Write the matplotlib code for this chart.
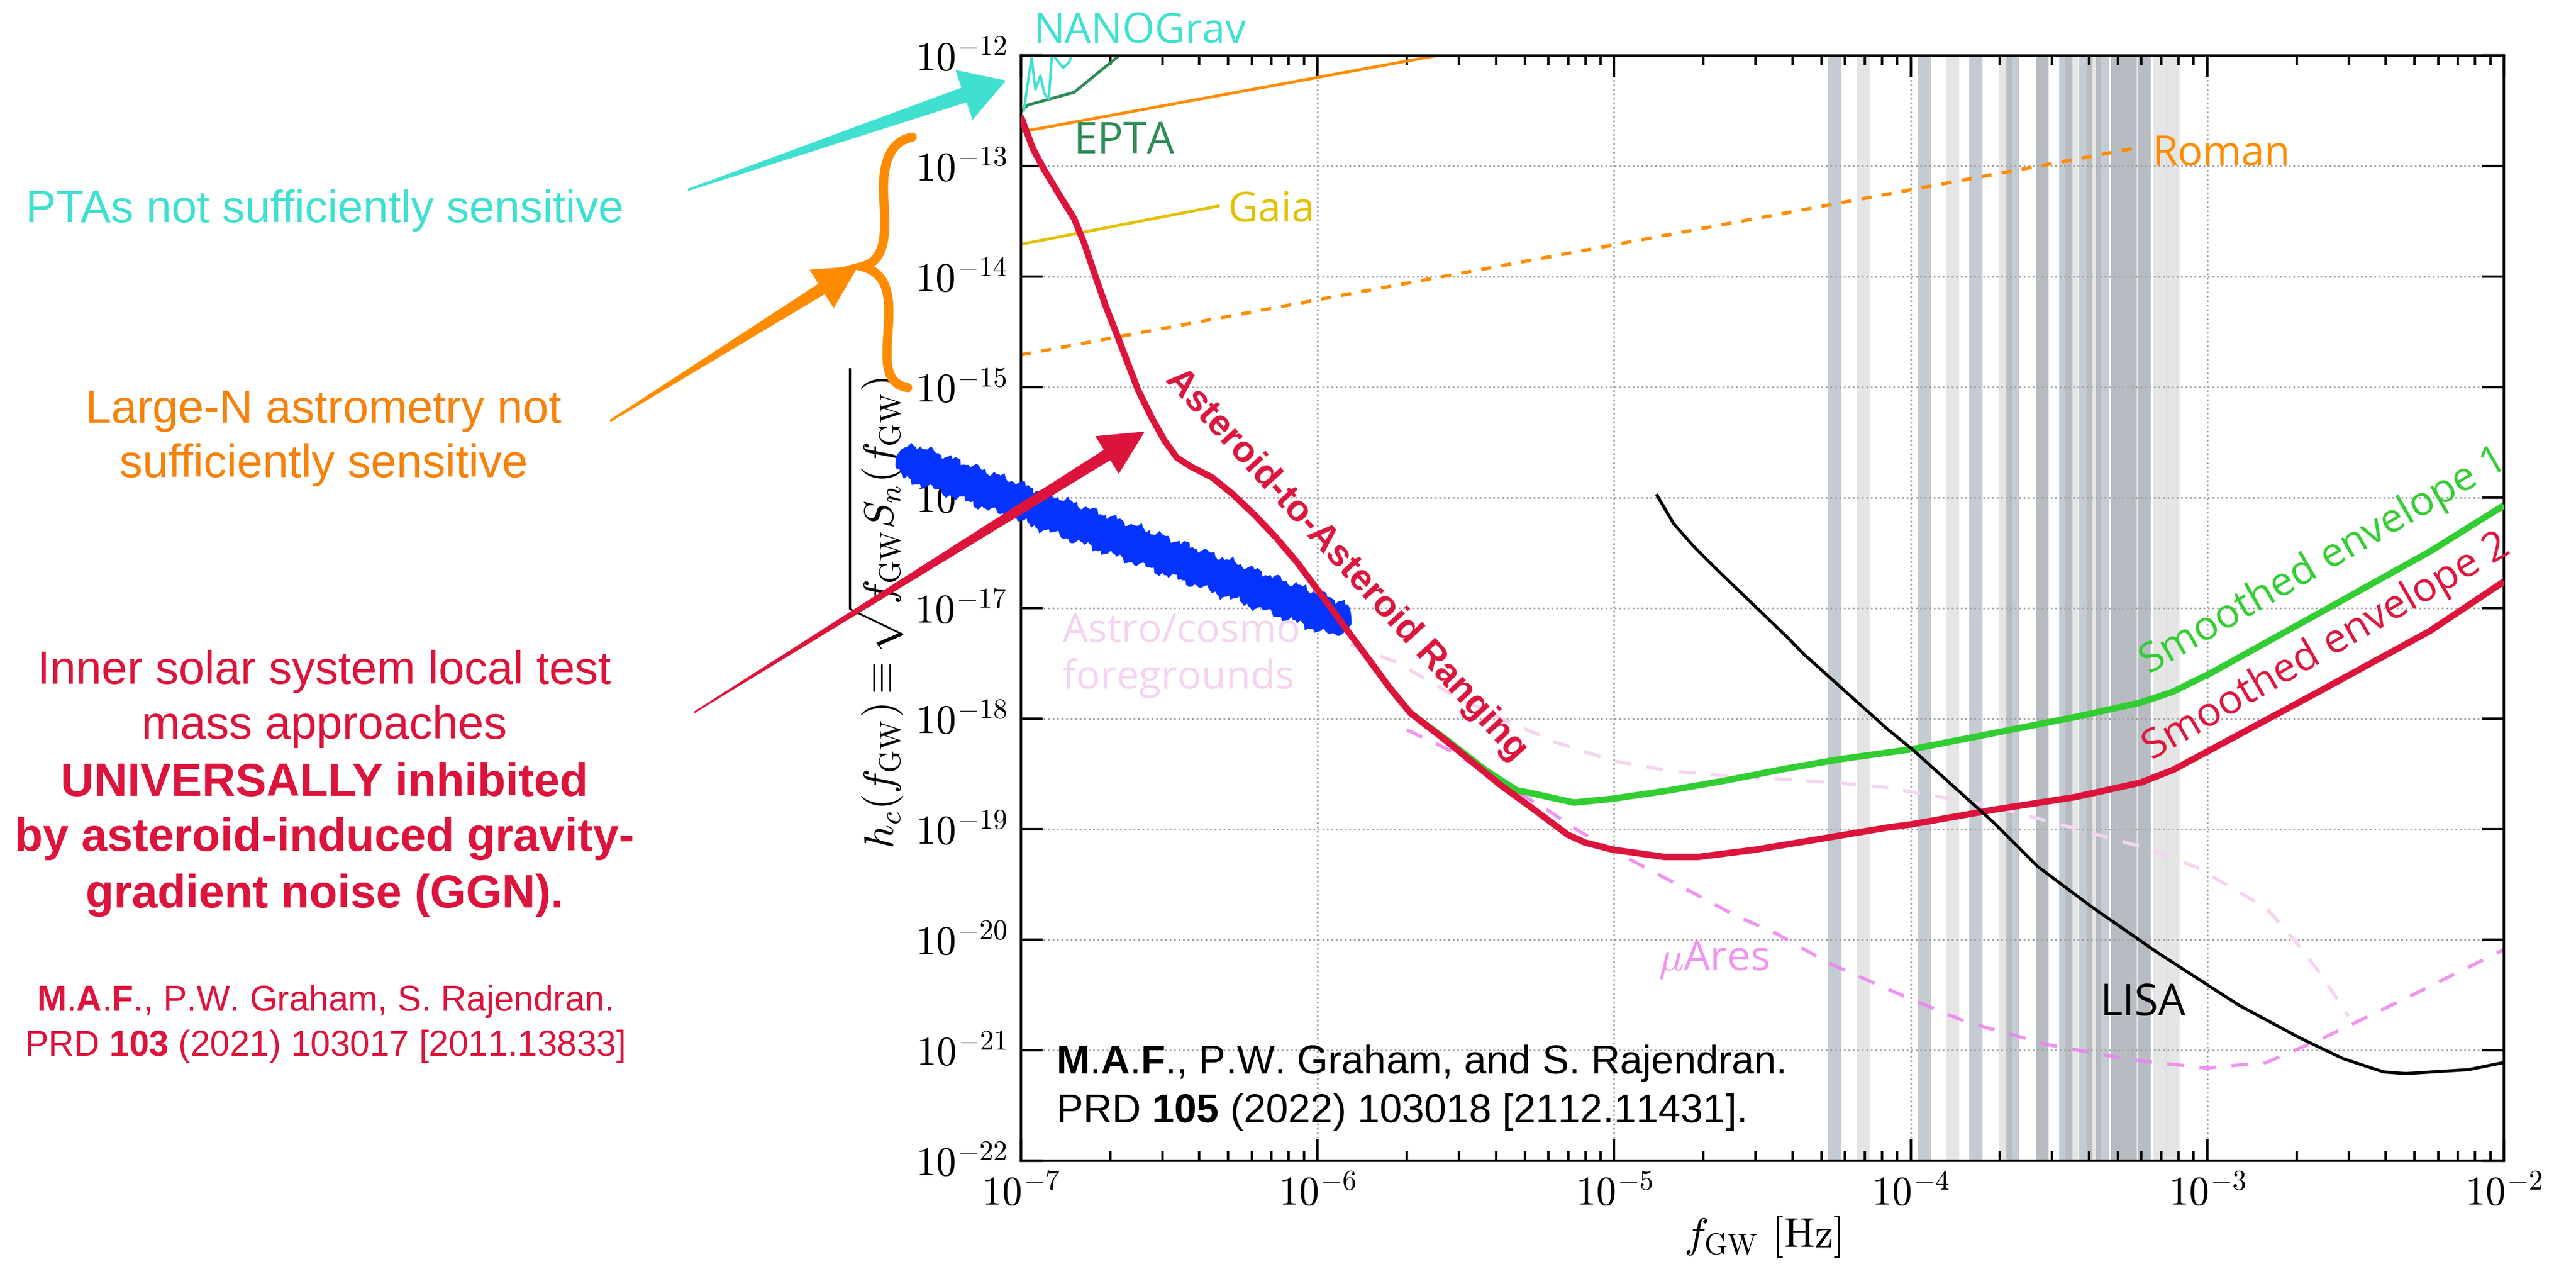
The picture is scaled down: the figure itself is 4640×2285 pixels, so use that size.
import numpy as np
import matplotlib.pyplot as plt
from matplotlib.patches import Polygon, PathPatch
from matplotlib.path import Path
from matplotlib.ticker import FixedLocator, FuncFormatter, NullLocator

plt.rcParams['mathtext.fontset'] = 'cm'
plt.rcParams['mathtext.rm'] = 'Liberation Sans'
plt.rcParams['mathtext.bf'] = 'Liberation Sans:bold'
plt.rcParams['font.family'] = ['Open Sans', 'DejaVu Sans']

# sensitivity curves, stored as log10(f / Hz) and log10(h_c)
ranging_logf = [-7.0, -6.959, -6.921, -6.869, -6.820, -6.785, -6.749, -6.714, -6.678,
                -6.605, -6.558, -6.515, -6.474, -6.427, -6.354, -6.283, -6.212, -6.141, -6.068,
                -5.997, -5.912, -5.841, -5.757, -5.686, -5.575, -5.384, -5.289, -5.156, -5.098,
                -5.003, -4.830, -4.716, -4.525, -4.334, -4.078, -3.995, -3.720, -3.445, -3.224,
                -3.114, -2.985, -2.616, -2.249, -2.0]
ranging_logh = [-12.55, -12.844, -13.035, -13.266, -13.477, -13.709, -13.995, -14.266, -14.513,
                -15.025, -15.281, -15.487, -15.638, -15.719, -15.819, -15.975, -16.156, -16.357, -16.588,
                -16.844, -17.156, -17.412, -17.719, -17.950, -18.181, -18.598, -18.784, -19.050, -19.121,
                -19.186, -19.251, -19.251, -19.186, -19.101, -18.985, -18.955, -18.824, -18.709, -18.578,
                -18.462, -18.276, -17.744, -17.206, -16.759]

env1_logf = [-5.757, -5.686, -5.575, -5.431, -5.328, -5.289, -5.135, -5.003, -4.812, -4.621,
             -4.430, -4.239, -3.995, -3.720, -3.445, -3.224, -3.114, -2.985, -2.616, -2.249, -2.0]
env1_logh = [-17.719, -17.950, -18.170, -18.470, -18.648, -18.668, -18.759, -18.724, -18.648, -18.558,
             -18.457, -18.367, -18.276, -18.131, -17.985, -17.854, -17.754, -17.583, -17.035, -16.487, -16.070]

lisa_logf = [-4.855, -4.799, -4.733, -4.664, -4.551, -4.411, -4.364, -4.078, -3.995, -3.720,
             -3.572, -3.389, -3.168, -2.893, -2.691, -2.543, -2.406, -2.331, -2.120, -2.0]
lisa_logh = [-15.980, -16.236, -16.437, -16.623, -16.915, -17.276, -17.407, -18.095, -18.276, -18.940,
             -19.337, -19.704, -20.116, -20.593, -20.884, -21.075, -21.196, -21.211, -21.176, -21.111]

muares_logf = [-5.699, -5.557, -5.212, -5.117, -4.984, -4.784, -4.711, -4.593, -4.456, -4.273,
               -3.995, -3.812, -3.537, -3.260, -3.003, -2.801, -2.616, -2.341, -2.0]
muares_logh = [-18.101, -18.281, -18.849, -19.020, -19.221, -19.503, -19.608, -19.779, -19.940, -20.216,
               -20.543, -20.744, -20.950, -21.085, -21.161, -21.111, -20.899, -20.543, -20.090]

fg_logf = [-5.890, -5.735, -5.557, -5.384, -5.194, -5.003, -4.812, -4.621, -4.430, -4.239,
           -4.078, -3.995, -3.720, -3.445, -3.205, -3.039, -2.912, -2.801, -2.710, -2.616, -2.524]
fg_logh = [-17.332, -17.487, -17.764, -17.995, -18.216, -18.382, -18.472, -18.518, -18.548, -18.583,
           -18.623, -18.663, -18.794, -18.995, -19.171, -19.342, -19.538, -19.714, -19.990, -20.317, -20.693]

nanograv_logf = [-6.990, -6.964, -6.951, -6.934, -6.921, -6.906, -6.895, -6.880, -6.858, -6.839, -6.826]
nanograv_logh = [-12.497, -12.015, -12.307, -12.181, -12.342, -12.392, -11.98, -12.035, -12.111, -12.065, -11.98]

epta_logf = [-7.0, -6.976, -6.820, -6.671, -6.60]
epta_logh = [-12.51, -12.447, -12.332, -12.005, -11.85]

astrometry_f = [1e-7, 1e-5]
astrometry_h = [2.04e-13, 1.97e-12]
gaia_f = [1e-7, 4.63e-7]
gaia_h = [1.96e-14, 4.35e-14]
roman_f = [1e-7, 5.69e-4]
roman_h = [1.96e-15, 1.45e-13]

# hand-drawn highlight over the low-frequency end
scribble_f = [3.8e-8, 1.30e-6]
scribble_h = [2.35e-16, 7.2e-18]

# excluded frequency windows
bands_dark = [5.27e-5, 1.055e-4, 1.575e-4, 2.10e-4, 2.64e-4, 3.17e-4, 3.70e-4, 4.21e-4, 4.73e-4, 5.24e-4, 5.82e-4]
bands_light = [6.59e-5, 1.314e-4, 1.98e-4, 2.64e-4, 3.31e-4, 3.95e-4, 4.73e-4, 5.24e-4, 5.82e-4, 6.59e-4, 7.28e-4]
band_ratio = 1.107

x_decades = [-7, -6, -5, -4, -3, -2]
y_decades = [-22, -21, -20, -19, -18, -17, -16, -15, -14, -13, -12]

crimson = '#dc143c'
turq = '#40e0d0'
dorange = '#ff8c00'

W, H = 4640, 2285
fig = plt.figure(figsize=(W / 200, H / 200), dpi=200)
ax = fig.add_axes([0.3963, 0.0853, 0.5757, 0.8709])
ax.set_xscale('log')
ax.set_yscale('log')
ax.set_xlim(1e-7, 1e-2)
ax.set_ylim(1e-22, 1e-12)

for f0 in bands_dark:
    ax.axvspan(f0, f0 * band_ratio, color='#778899', alpha=0.43, lw=0, zorder=0.5)
for f0 in bands_light:
    ax.axvspan(f0, f0 * band_ratio, color='gray', alpha=0.2, lw=0, zorder=0.6)


def p10(a):
    return 10 ** np.asarray(a, dtype=float)


ax.plot(p10(fg_logf), p10(fg_logh), color='#f4d4f0', lw=2.2, dashes=(5, 4.5), zorder=2)
ax.plot(p10(muares_logf), p10(muares_logh), color='violet', alpha=0.85, lw=2.2, dashes=(5, 4.5), zorder=2.1)
ax.plot(roman_f, roman_h, color=dorange, lw=2.2, dashes=(3, 3), zorder=2.2)
ax.plot(astrometry_f, astrometry_h, color=dorange, lw=1.9, zorder=2.2)
ax.plot(gaia_f, gaia_h, color='#e3c000', lw=1.9, zorder=2.2)
ax.plot(p10(epta_logf), p10(epta_logh), color='seagreen', lw=1.9, zorder=2.3)
ax.plot(p10(nanograv_logf), p10(nanograv_logh), color=turq, lw=1.6, zorder=2.4)
ax.plot(p10(env1_logf), p10(env1_logh), color='limegreen', lw=4.2, zorder=3, solid_capstyle='butt')
ax.plot(p10(ranging_logf), p10(ranging_logh), color=crimson, lw=4.2, zorder=4, solid_capstyle='butt')
ax.plot(p10(lisa_logf), p10(lisa_logh), color='black', lw=2.0, zorder=4.5)

# marker-pen stroke: a band with ragged edges, built in pixel space
p0 = ax.transData.transform((scribble_f[0], scribble_h[0]))
p1 = ax.transData.transform((scribble_f[1], scribble_h[1]))
t = np.linspace(0, 1, 200)
length = np.hypot(*(p1 - p0))
u = (p1 - p0) / length
n = np.array([-u[1], u[0]])
s = t * length / 12.0
rough_a = 4 * np.sin(1.7 * s) + 3 * np.sin(4.3 * s + 1.1) + 2 * np.sin(9.1 * s + 0.4)
rough_b = 4 * np.sin(1.3 * s + 2.0) + 3.5 * np.sin(3.7 * s + 0.3) + 2 * np.sin(8.3 * s + 1.9)
half = 31
taper = np.clip(np.minimum(t, 1 - t) * length / 25.0, 0, 1) ** 0.5
top = p0 + np.outer(t, p1 - p0) + np.outer((half + rough_a) * taper, n)
bot = p0 + np.outer(t, p1 - p0) - np.outer((half + rough_b) * taper, n)
outline = ax.transData.inverted().transform(np.vstack([top, bot[::-1]]))
ax.add_patch(Polygon(outline, closed=True, fc='#0433ff', ec='#0433ff', lw=0.5,
                     zorder=3.5, clip_on=False))

# curve labels
ax.text(1.104e-7, 1.32e-12, 'NANOGrav', color=turq, fontsize=27, clip_on=False)
ax.text(1.50e-7, 1.31e-13, 'EPTA', color='seagreen', fontsize=28)
ax.text(4.99e-7, 3.18e-14, 'Gaia', color='#e3c000', fontsize=27)
ax.text(6.53e-4, 1.02e-13, 'Roman', color=dorange, fontsize=27)
ax.text(4.35e-4, 2.07e-21, 'LISA', color='black', fontsize=28)
ax.text(1.41e-5, 5.3e-21, r'$\mu$Ares', color='violet', alpha=0.85, fontsize=27)
ax.text(1.38e-7, 4.93e-18, 'Astro/cosmo', color='#f4d4f0', fontsize=26)
ax.text(1.38e-7, 1.87e-18, 'foregrounds', color='#f4d4f0', fontsize=26)
ax.text(6.37e-4, 2.52e-18, 'Smoothed envelope 1', color='limegreen', fontsize=26.5,
        rotation=30, rotation_mode='anchor')
ax.text(6.50e-4, 4.2e-19, 'Smoothed envelope 2', color=crimson, fontsize=26.5,
        rotation=30, rotation_mode='anchor')
ax.text(3.05e-7, 1.16e-15, 'Asteroid-to-Asteroid Ranging', color=crimson, fontsize=24,
        family='Liberation Sans', weight='bold', rotation=-47.5, rotation_mode='anchor', zorder=5)

ax.text(0.0236, 0.0789, r'$\mathbf{M}$.$\mathbf{A}$.$\mathbf{F}$., P.W. Graham, and S. Rajendran.',
        transform=ax.transAxes, fontsize=26, family='Liberation Sans', math_fontfamily='custom')
ax.text(0.0236, 0.0347, r'PRD $\mathbf{105}$ (2022) 103018 [2112.11431].', transform=ax.transAxes,
        fontsize=26, family='Liberation Sans', math_fontfamily='custom')

# axes styling
ax.grid(True, which='major', ls=':', lw=1.1, color='#a0a0a0')
ax.xaxis.set_major_locator(FixedLocator(p10(x_decades)))
ax.xaxis.set_minor_locator(FixedLocator([m * 10.0 ** d for d in x_decades[:-1] for m in range(2, 10)]))
ax.yaxis.set_major_locator(FixedLocator(p10(y_decades)))
ax.yaxis.set_minor_locator(NullLocator())
fmt = FuncFormatter(lambda v, pos: r'$10^{%d}$' % int(round(np.log10(v))))
ax.xaxis.set_major_formatter(fmt)
ax.yaxis.set_major_formatter(fmt)
ax.tick_params(which='both', direction='in', top=True, right=True, width=1.6)
ax.tick_params(which='major', length=14, labelsize=26, pad=9)
ax.tick_params(which='minor', length=6)
for sp in ax.spines.values():
    sp.set_linewidth(1.6)
ax.set_xlabel(r'$f_{\rm GW}\ [{\rm Hz}]$', fontsize=27, labelpad=0)
ax.set_ylabel(r'$h_c(f_{\rm GW}) \equiv \sqrt{f_{\rm GW} S_n(f_{\rm GW})}$', fontsize=27, labelpad=6)

# overlay in figure pixels for the arrows and the brace
ov = fig.add_axes([0, 0, 1, 1], zorder=5)
ov.set_xlim(0, W)
ov.set_ylim(H, 0)
ov.axis('off')
ov.patch.set_alpha(0)


def brush_arrow(tail, tip, w0, w1, head_w, head_len, color):
    tail = np.array(tail, float)
    tip = np.array(tip, float)
    d = (tip - tail) / np.hypot(*(tip - tail))
    nv = np.array([-d[1], d[0]])
    neck = tip - d * head_len
    pts = [tail + nv * w0 / 2, neck + nv * w1 / 2, neck + nv * head_w / 2, tip,
           neck - nv * head_w / 2, neck - nv * w1 / 2, tail - nv * w0 / 2]
    ov.add_patch(Polygon(pts, closed=True, fc=color, ec='none'))


brush_arrow((1239, 342), (1812, 145), 4, 28, 95, 80, turq)
brush_arrow((1099, 758), (1546, 479), 4, 22, 82, 78, dorange)
brush_arrow((1250, 1283), (2062, 777), 3, 22, 80, 80, crimson)

brace = [(1643, 247), (1600, 255), (1588, 300), (1592, 360),
         (1596, 420), (1596, 470), (1553, 480),
         (1598, 492), (1604, 530), (1600, 590),
         (1596, 650), (1592, 690), (1635, 698)]
codes = [Path.MOVETO] + [Path.CURVE4] * 12
ov.add_patch(PathPatch(Path(brace, codes), fc='none', ec=dorange, lw=6, capstyle='round'))


# side notes, placed by pixel position measured from the top-left corner
def note(px, py, s, color, size, **kw):
    fig.text(px / W, 1 - py / H, s, color=color, fontsize=size, ha='center', va='baseline',
             family='Liberation Sans', zorder=6, **kw)


note(585, 400, 'PTAs not sufficiently sensitive', turq, 29.5)
note(583, 761, 'Large-N astrometry not', '#f5820d', 30)
note(583, 859, 'sufficiently sensitive', '#f5820d', 30)
note(584, 1231, 'Inner solar system local test', crimson, 30)
note(584, 1330, 'mass approaches', crimson, 30)
note(584, 1433, 'UNIVERSALLY inhibited', crimson, 30, weight='bold')
note(584, 1532, 'by asteroid-induced gravity-', crimson, 30, weight='bold')
note(584, 1634, 'gradient noise (GGN).', crimson, 30, weight='bold')
note(584, 1820, r'$\mathbf{M}$.$\mathbf{A}$.$\mathbf{F}$., P.W. Graham, S. Rajendran.', crimson, 23,
     math_fontfamily='custom')
note(584, 1901, r'PRD $\mathbf{103}$ (2021) 103017 [2011.13833]', crimson, 23,
     math_fontfamily='custom')

fig.savefig('out.png', dpi=200)
